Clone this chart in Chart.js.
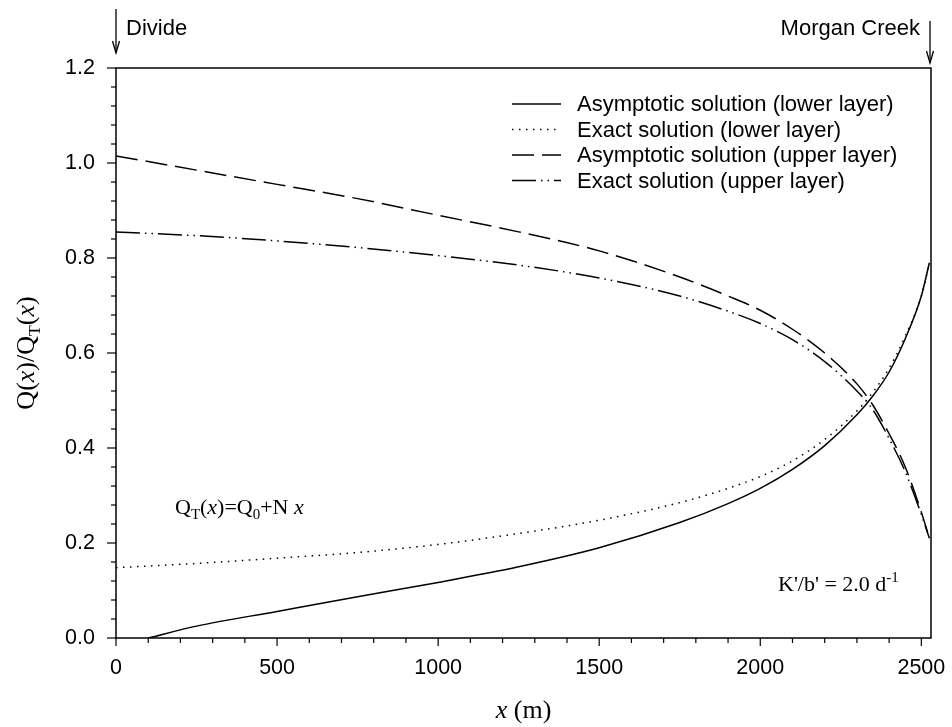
<!DOCTYPE html>
<html>
<head>
<meta charset="utf-8">
<script src="https://cdn.jsdelivr.net/npm/chart.js@4.4.1/dist/chart.umd.min.js"></script>
<style>
  html, body { margin: 0; padding: 0; background: #fff; }
  #wrap { width: 952px; height: 727px; }
</style>
</head>
<body>
<div id="wrap"><canvas id="chart"></canvas></div>
<script>
// values
const asymLowerX = [100, 250, 500, 750, 1000, 1250, 1500, 1750, 1900, 2000, 2100, 2200, 2300, 2350, 2400, 2450, 2500, 2525];
const asymLowerY = [0, 0.025, 0.056, 0.087, 0.117, 0.15, 0.19, 0.243, 0.283, 0.315, 0.355, 0.405, 0.47, 0.51, 0.56, 0.63, 0.72, 0.79];

const exactLowerX = [0, 250, 500, 750, 1000, 1250, 1500, 1750, 1900, 2000, 2100, 2200, 2300, 2350, 2400, 2450, 2500, 2525];
const exactLowerY = [0.148, 0.157, 0.168, 0.18, 0.197, 0.22, 0.248, 0.285, 0.315, 0.34, 0.373, 0.418, 0.478, 0.518, 0.568, 0.635, 0.72, 0.79];

const asymUpperX = [0, 250, 500, 750, 1000, 1250, 1500, 1750, 1900, 2000, 2100, 2200, 2300, 2350, 2400, 2450, 2500, 2525];
const asymUpperY = [1.015, 0.985, 0.955, 0.925, 0.89, 0.855, 0.815, 0.76, 0.72, 0.69, 0.65, 0.6, 0.535, 0.49, 0.43, 0.36, 0.265, 0.21];

const exactUpperX = [0, 250, 500, 750, 1000, 1250, 1500, 1750, 1900, 2000, 2100, 2200, 2300, 2350, 2400, 2450, 2500, 2525];
const exactUpperY = [0.855, 0.847, 0.836, 0.822, 0.805, 0.785, 0.758, 0.72, 0.688, 0.662, 0.628, 0.582, 0.52, 0.48, 0.42, 0.35, 0.26, 0.21];

const seriesLabels = [
  "Asymptotic solution (lower layer)",
  "Exact solution (lower layer)",
  "Asymptotic solution (upper layer)",
  "Exact solution (upper layer)"
];
const xMajorTicks = [0, 500, 1000, 1500, 2000, 2500];
const yMajorTicks = [0, 0.2, 0.4, 0.6, 0.8, 1.0, 1.2];

const SANS = '"Liberation Sans", Arial, sans-serif';
const SERIF = '"Liberation Serif", "Times New Roman", serif';

function pts(xs, ys) {
  return xs.map((x, i) => ({ x, y: ys[i] }));
}

function lineSet(label, data, dash) {
  return {
    label,
    data,
    borderColor: "#000",
    borderWidth: 1.5,
    borderDash: dash,
    pointRadius: 0,
    fill: false,
    cubicInterpolationMode: "monotone"
  };
}

// draw text made of pieces with sub/superscripts and italics
function richText(ctx, parts, x, y, size, measureOnly) {
  let cx = x;
  for (const p of parts) {
    const s = p.sub || p.sup ? size * 0.68 : size;
    ctx.font = `${p.italic ? "italic " : ""}${s}px ${SERIF}`;
    let dy = 0;
    if (p.sub) dy = size * 0.22;
    if (p.sup) dy = -size * 0.4;
    if (!measureOnly) ctx.fillText(p.t, cx, y + dy);
    cx += ctx.measureText(p.t).width;
  }
  return cx - x;
}

function arrowDown(ctx, x, y1, y2) {
  ctx.beginPath();
  ctx.moveTo(x, y1);
  ctx.lineTo(x, y2);
  ctx.stroke();
  ctx.beginPath();
  ctx.moveTo(x - 3.5, y2 - 12);
  ctx.lineTo(x, y2);
  ctx.lineTo(x + 3.5, y2 - 12);
  ctx.stroke();
}

const decorations = {
  id: "decorations",
  afterDraw(chart) {
    const { ctx, chartArea: a, scales } = chart;
    const xs = scales.x, ys = scales.y;
    ctx.save();
    ctx.strokeStyle = "#000";
    ctx.fillStyle = "#000";
    ctx.lineWidth = 1.5;
    ctx.setLineDash([]);
    ctx.strokeRect(a.left, a.top, a.right - a.left, a.bottom - a.top);

    // tick marks, outside the frame
    ctx.lineWidth = 1.2;
    for (let i = 0; i <= 25; i++) {
      const v = i * 100;
      const px = xs.getPixelForValue(v);
      const len = v % 500 === 0 ? 8 : 5;
      ctx.beginPath();
      ctx.moveTo(px, a.bottom);
      ctx.lineTo(px, a.bottom + len);
      ctx.stroke();
    }
    for (let i = 0; i <= 30; i++) {
      const py = ys.getPixelForValue(i * 0.04);
      const len = i % 5 === 0 ? 9 : 5;
      ctx.beginPath();
      ctx.moveTo(a.left, py);
      ctx.lineTo(a.left - len, py);
      ctx.stroke();
    }

    // legend
    const lx0 = 512, lx1 = 561, tx = 577;
    const rows = [104, 129.5, 155, 180.5];
    ctx.font = `22px ${SANS}`;
    ctx.textBaseline = "middle";
    chart.data.datasets.forEach((ds, i) => {
      ctx.lineWidth = 1.5;
      ctx.setLineDash(ds.borderDash || []);
      ctx.beginPath();
      ctx.moveTo(lx0, rows[i]);
      ctx.lineTo(lx1, rows[i]);
      ctx.stroke();
      ctx.setLineDash([]);
      ctx.fillText(ds.label, tx, rows[i] + 1);
    });

    // annotations
    ctx.textBaseline = "alphabetic";
    richText(ctx, [
      { t: "Q" }, { t: "T", sub: true }, { t: "(" }, { t: "x", italic: true },
      { t: ")=Q" }, { t: "0", sub: true }, { t: "+N " }, { t: "x", italic: true }
    ], 175, 514, 22);
    richText(ctx, [{ t: "K'/b' = 2.0 d" }, { t: "-1", sup: true }], 778, 591, 22);

    // site markers
    ctx.lineWidth = 1.3;
    arrowDown(ctx, xs.getPixelForValue(0), 9, 53);
    arrowDown(ctx, a.right - 1, 21, 63);
    ctx.font = `22px ${SANS}`;
    ctx.textAlign = "left";
    ctx.fillText("Divide", 126, 35);
    ctx.textAlign = "right";
    ctx.fillText("Morgan Creek", 920, 35);

    // axis titles
    ctx.textAlign = "left";
    const xParts = [{ t: "x", italic: true }, { t: " (m)" }];
    const xw = richText(ctx, xParts, 0, 0, 26, true);
    richText(ctx, xParts, (a.left + a.right) / 2 - xw / 2, 718, 26);

    ctx.save();
    ctx.translate(34, (a.top + a.bottom) / 2);
    ctx.rotate(-Math.PI / 2);
    const yParts = [
      { t: "Q(" }, { t: "x", italic: true }, { t: ")/Q" }, { t: "T", sub: true },
      { t: "(" }, { t: "x", italic: true }, { t: ")" }
    ];
    const yw = richText(ctx, yParts, 0, 0, 26, true);
    richText(ctx, yParts, -yw / 2, 0, 26);
    ctx.restore();

    ctx.restore();
  }
};

new Chart(document.getElementById("chart"), {
  type: "line",
  data: {
    datasets: [
      lineSet(seriesLabels[0], pts(asymLowerX, asymLowerY), []),
      lineSet(seriesLabels[1], pts(exactLowerX, exactLowerY), [1.5, 5.5]),
      lineSet(seriesLabels[2], pts(asymUpperX, asymUpperY), [22, 8]),
      lineSet(seriesLabels[3], pts(exactUpperX, exactUpperY), [24, 5, 1.5, 5, 1.5, 5])
    ]
  },
  options: {
    responsive: true,
    maintainAspectRatio: false,
    animation: false,
    layout: { padding: { top: 68, right: 21, left: 0, bottom: 0 } },
    plugins: { legend: { display: false }, tooltip: { enabled: false } },
    scales: {
      x: {
        type: "linear",
        min: 0,
        max: 2530,
        afterFit: (s) => { s.height = 89; s.paddingLeft = 0; s.paddingRight = 0; },
        afterBuildTicks: (s) => { s.ticks = xMajorTicks.map((v) => ({ value: v })); },
        grid: { display: false, drawTicks: false },
        border: { display: false },
        ticks: {
          autoSkip: false,
          maxRotation: 0,
          padding: 17,
          color: "#000",
          font: { family: SANS, size: 21.5 },
          callback: (v) => String(v)
        }
      },
      y: {
        min: 0,
        max: 1.2,
        afterFit: (s) => { s.width = 116; s.paddingTop = 0; s.paddingBottom = 0; },
        afterBuildTicks: (s) => { s.ticks = yMajorTicks.map((v) => ({ value: v })); },
        grid: { display: false, drawTicks: false },
        border: { display: false },
        ticks: {
          padding: 21,
          color: "#000",
          font: { family: SANS, size: 21.5 },
          callback: (v) => Number(v).toFixed(1)
        }
      }
    }
  },
  plugins: [decorations]
});
</script>
</body>
</html>
